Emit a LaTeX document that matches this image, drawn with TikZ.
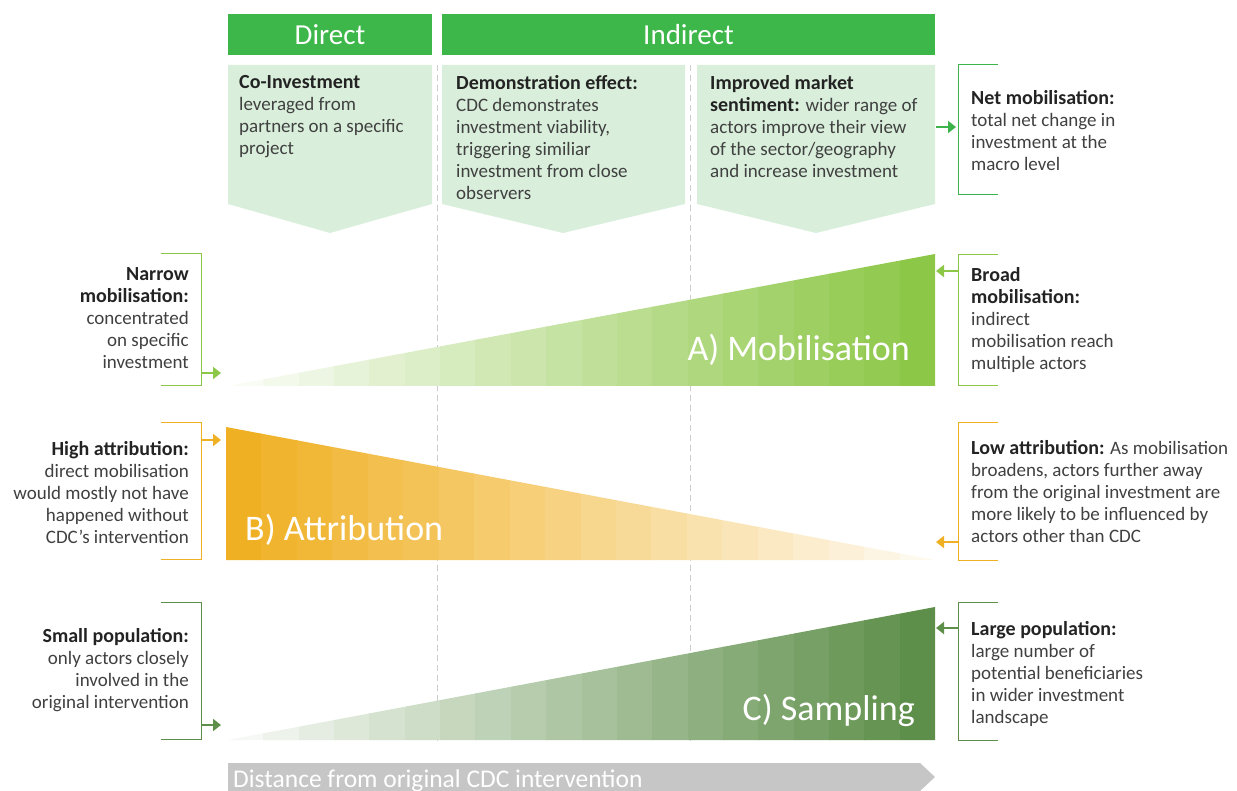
\documentclass[tikz,border=0pt]{standalone}
\usepackage{fontspec}
\setmainfont{Carlito}
\usetikzlibrary{arrows.meta}
\definecolor{hdrG}{RGB}{61,183,73}
\definecolor{boxG}{RGB}{217,239,219}
\definecolor{mobG}{RGB}{141,199,72}
\definecolor{attO}{RGB}{240,176,35}
\definecolor{samG}{RGB}{94,143,74}
\definecolor{netG}{RGB}{60,180,75}
\definecolor{barG}{RGB}{198,198,198}
\definecolor{dashC}{RGB}{205,205,205}
\definecolor{headC}{RGB}{35,35,35}
\definecolor{bodyC}{RGB}{64,64,64}
\tikzset{
  hdr/.style={fill=hdrG, text=white, inner sep=0, font=\fontsize{29}{32}\selectfont, minimum height=41},
  body/.style={inner sep=0, text=bodyC, font=\fontsize{19}{22}\selectfont},
  bodyL/.style={body, align=left, anchor=north west},
  bodyR/.style={body, align=right, anchor=north east},
  wlabel/.style={inner sep=0, text=white, font=\fontsize{36}{40}\selectfont},
  brk/.style={line width=1pt},
  arr/.style={line width=2.5pt, -{Triangle[length=8pt,width=12pt]}},
  vdash/.style={dashC, line width=0.8pt, dash pattern=on 6pt off 4pt},
}
\newcommand{\hb}[1]{{\fontsize{20}{22}\selectfont\textbf{\color{headC}#1}}}
\begin{document}
\begin{tikzpicture}[x=1pt,y=-1pt]
\useasboundingbox (0,0) rectangle (1237,791);

% dashed separators
\draw[vdash] (437,65) -- (437,745);
\draw[vdash] (690,65) -- (690,745);

% headers
\node[hdr, minimum width=204] (direct) at (330,34.5) {Direct};
\node[hdr, minimum width=493] (indirect) at (688.5,34.5) {Indirect};

% pentagon boxes
\fill[boxG] (228,65) -- (432,65) -- (432,204) -- (330,233) -- (228,204) -- cycle;
\fill[boxG] (442,65) -- (685,65) -- (685,204) -- (563,233) -- (442,204) -- cycle;
\fill[boxG] (697,65) -- (935,65) -- (935,204) -- (816,233) -- (697,204) -- cycle;

\node[bodyL] (coinv) at (239,75) {\hb{Co-Investment}\\leveraged from\\partners on a specific\\project};
\node[bodyL] (demo) at (456,75) {\hb{Demonstration effect:}\\CDC demonstrates\\investment viability,\\triggering similiar\\investment from close\\observers};
\node[bodyL] (market) at (710,75) {\hb{Improved market}\\\hb{sentiment:} wider range of\\actors improve their view\\of the sector/geography\\and increase investment};

% wedges with stripes
\begin{scope}
  \clip (228,386) -- (935,254) -- (935,386) -- cycle;
  \foreach \i in {0,...,19}{
    \pgfmathsetmacro\pp{6+94*\i/19}
    \fill[mobG!\pp!white] ({228+\i*35.35},250) rectangle ({228+(\i+1)*35.35+0.6},390);
  }
\end{scope}
\begin{scope}
  \clip (226,427) -- (935,560) -- (226,560) -- cycle;
  \foreach \i in {0,...,19}{
    \pgfmathsetmacro\pp{100-92*\i/19}
    \fill[attO!\pp!white] ({226+\i*35.45},420) rectangle ({226+(\i+1)*35.45+0.6},565);
  }
\end{scope}
\begin{scope}
  \clip (228,740) -- (935,607) -- (935,740) -- cycle;
  \foreach \i in {0,...,19}{
    \pgfmathsetmacro\pp{6+94*\i/19}
    \fill[samG!\pp!white] ({228+\i*35.35},600) rectangle ({228+(\i+1)*35.35+0.6},745);
  }
\end{scope}

\node[wlabel, anchor=base east] (mobl) at (910,361) {A) Mobilisation};
\node[wlabel, anchor=base west] (attl) at (245,540) {B) Attribution};
\node[wlabel, anchor=base east] (saml) at (915,720) {C) Sampling};

% coordinates on wedges / boxes
\coordinate (mobTip) at (221,373);
\coordinate (mobTop) at (936,271);
\coordinate (attTop) at (221,440);
\coordinate (attTip) at (936,542);
\coordinate (samTip) at (221,725);
\coordinate (samTop) at (936,628);
\coordinate (mktR) at (936,127);

% right brackets
\draw[brk, netG] (998,65) -- (958,65) -- (958,195) -- (998,195);
\coordinate (netB) at (956,127);
\draw[brk, mobG] (998,255) -- (958,255) -- (958,386) -- (998,386);
\coordinate (broadB) at (958,271);
\draw[brk, attO] (998,423) -- (958,423) -- (958,560) -- (998,560);
\coordinate (lowB) at (958,542);
\draw[brk, samG] (998,602) -- (958,602) -- (958,740) -- (998,740);
\coordinate (largeB) at (958,628);

% left brackets
\draw[brk, mobG] (161,254) -- (201,254) -- (201,386) -- (161,386);
\coordinate (narrowB) at (201,373);
\draw[brk, attO] (161,423) -- (201,423) -- (201,559) -- (161,559);
\coordinate (highB) at (201,440);
\draw[brk, samG] (161,602) -- (201,602) -- (201,739) -- (161,739);
\coordinate (smallB) at (201,725);

% arrows
\draw[arr, netG] (mktR) -- (netB);
\draw[arr, mobG] (broadB) -- (mobTop);
\draw[arr, attO] (lowB) -- (attTip);
\draw[arr, samG] (largeB) -- (samTop);
\draw[arr, mobG] (narrowB) -- (mobTip);
\draw[arr, attO] (highB) -- (attTop);
\draw[arr, samG] (smallB) -- (samTip);

% right texts
\node[bodyL] (net) at (971,90) {\hb{Net mobilisation:}\\total net change in\\investment at the\\macro level};
\node[bodyL] (broad) at (971,267) {\hb{Broad}\\\hb{mobilisation:}\\indirect\\mobilisation reach\\multiple actors};
\node[bodyL] (low) at (971,440) {\hb{Low attribution:} As mobilisation\\broadens, actors further away\\from the original investment are\\more likely to be influenced by\\actors other than CDC};
\node[bodyL] (large) at (971,621) {\hb{Large population:}\\large number of\\potential beneficiaries\\in wider investment\\landscape};

% left texts
\node[bodyR] (narrow) at (189,267) {\hb{Narrow}\\\hb{mobilisation:}\\concentrated\\on specific\\investment};
\node[bodyR] (high) at (189,441) {\hb{High attribution:}\\direct mobilisation\\would mostly not have\\happened without\\CDC’s intervention};
\node[bodyR] (small) at (189,628) {\hb{Small population:}\\only actors closely\\involved in the\\original intervention};

% distance bar
\fill[barG] (228,763) -- (920,763) -- (935,777) -- (920,791) -- (228,791) -- cycle;
\node[inner sep=0, anchor=base west, text=white, font=\fontsize{25.5}{28}\selectfont] (dist) at (233,787) {Distance from original CDC intervention};
\end{tikzpicture}
\end{document}
